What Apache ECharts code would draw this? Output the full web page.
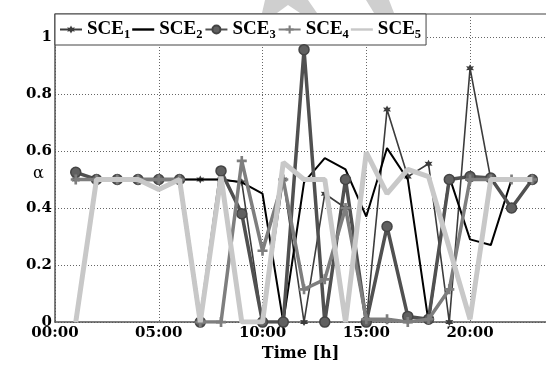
<!DOCTYPE html>
<html><head><meta charset="utf-8">
<script src="https://cdn.jsdelivr.net/npm/echarts@6/dist/echarts.min.js"></script>
<style>html,body{margin:0;padding:0;background:#fff}#c{width:546px;height:367px}</style>
</head><body><div id="c"></div>
<script>
// Data (hours of day 1..23)
const hours = [1,2,3,4,5,6,7,8,9,10,11,12,13,14,15,16,17,18,19,20,21,22,23];
const seriesNames = ['SCE1','SCE2','SCE3','SCE4','SCE5'];
const sce1 = [0.5,0.5,0.5,0.5,0.5,0.5,0.5,0.5,0.49,0,0.5,0,0.45,0.4,0,0.745,0.51,0.555,0,0.89,0.5,0.5,0.5];
const sce2 = [0.5,0.5,0.5,0.5,0.5,0.5,0.5,0.5,0.49,0.45,0,0.49,0.575,0.535,0.37,0.61,0.5,0,0.51,0.29,0.27,0.5,0.5];
const sce3 = [0.525,0.5,0.5,0.5,0.5,0.5,0,0.53,0.38,0,0,0.955,0,0.5,0,0.335,0.02,0.01,0.5,0.51,0.505,0.4,0.5];
const sce4 = [0.5,0.5,0.5,0.5,0.5,0.5,0,0,0.565,0.25,0.5,0.115,0.15,0.4,0.01,0.01,0,0.01,0.115,0.5,0.5,0.5,0.5];
const sce5 = [0,0.5,0.5,0.5,0.465,0.5,0,0.51,0,0,0.56,0.5,0.5,0,0.595,0.45,0.535,0.51,0.26,0.01,0.5,0.5,0.5];
const xTicks = [0,5,10,15,20];
const yTicks = [0,0.2,0.4,0.6,0.8,1];

const pair = arr => hours.map((h,i)=>[h,arr[i]]);
const STAR = 'path://M0,-10 L2.6,-4.5 L8.7,-5 L5.2,0 L8.7,5 L2.6,4.5 L0,10 L-2.6,4.5 L-8.7,5 L-5.2,0 L-8.7,-5 L-2.6,-4.5 Z';
const PLUS = 'path://M-1.6,-6 L1.6,-6 L1.6,-1.6 L6,-1.6 L6,1.6 L1.6,1.6 L1.6,6 L-1.6,6 L-1.6,1.6 L-6,1.6 L-6,-1.6 L-1.6,-1.6 Z';
const LINEICON = 'path://M0,0 L22,0 L22,2.4 L0,2.4 Z';
const serifB = {fontFamily:'DejaVu Serif', fontWeight:'bold', color:'#000'};
const timesB = {fontFamily:'Liberation Serif', fontWeight:'bold', color:'#000'};

const chart = echarts.init(document.getElementById('c'), null, {renderer:'canvas'});
chart.setOption({
  animation:false,
  backgroundColor:'#fff',
  grid:{left:55, top:14, right:0, bottom:33},
  legend:{
    left:55, top:14, orient:'horizontal',
    padding:[4,5,4,4], itemGap:2, itemWidth:22, itemHeight:10,
    backgroundColor:'#fff', borderColor:'#444', borderWidth:1,
    data:seriesNames.map(n => (n==='SCE2'||n==='SCE5') ? {name:n, icon:LINEICON} : {name:n}),
    formatter: n => '{a|SCE}{b|' + n.slice(3) + '}',
    textStyle:{rich:{
      a:{...timesB, fontSize:19, lineHeight:23},
      b:{...timesB, fontSize:12.5, lineHeight:23, padding:[10,0,0,0]}
    }}
  },
  xAxis:{
    type:'value', min:0, max:23.66, interval:5,
    name:'Time [h]', nameLocation:'middle', nameGap:19,
    nameTextStyle:{...serifB, fontSize:16},
    axisLine:{show:true, onZero:false, lineStyle:{color:'#555', width:1.5}},
    axisTick:{show:false},
    axisLabel:{...serifB, fontSize:15, margin:4, showMaxLabel:false,
      formatter: v => xTicks.includes(v) ? ((v<10?'0':'')+v+':00') : ''},
    splitLine:{show:true, lineStyle:{color:'#666', type:[1,2], width:1}}
  },
  yAxis:{
    type:'value', min:0, max:1.08, interval:0.2,
    axisLine:{show:true, onZero:false, lineStyle:{color:'#555', width:1.5}},
    axisTick:{show:false},
    axisLabel:{...serifB, fontSize:15, margin:3, showMaxLabel:false,
      formatter: v => { const t = yTicks.find(k=>Math.abs(k-v)<1e-6); return t===undefined?'':String(t); }},
    splitLine:{show:true, lineStyle:{color:'#666', type:[1,2], width:1}}
  },
  graphic:[
    {type:'polygon', z:0, shape:{points:[[265,0],[308,0],[317,13],[300,13],[288,5],[277,13],[262,13]]}, style:{fill:'#cfcfcf'}},
    {type:'polygon', z:0, shape:{points:[[366,0],[389,0],[394,13],[374,13]]}, style:{fill:'#cfcfcf'}},
    {type:'line', z:1, shape:{x1:55, y1:14, x2:546, y2:14}, style:{stroke:'#a0a0a0', lineWidth:2}},
    {type:'text', left:33, top:166, z:10, style:{text:'α', font:'16px DejaVu Serif', fill:'#000'}}
  ],
  series:[
    {name:'SCE1', type:'line', data:pair(sce1), symbol:STAR, symbolSize:8, showAllSymbol:true,
     lineStyle:{color:'#3c3c3c', width:1.6}, itemStyle:{color:'#3c3c3c'}, z:2},
    {name:'SCE2', type:'line', data:pair(sce2), symbol:'none',
     lineStyle:{color:'#000', width:2}, itemStyle:{color:'#000'}, z:3},
    {name:'SCE3', type:'line', data:pair(sce3), symbol:'circle', symbolSize:10, showAllSymbol:true,
     lineStyle:{color:'#505050', width:3.5}, itemStyle:{color:'#606060', borderColor:'#444', borderWidth:1.5}, z:4},
    {name:'SCE4', type:'line', data:pair(sce4), symbol:PLUS, symbolSize:10, showAllSymbol:true,
     lineStyle:{color:'#7e7e7e', width:3.5}, itemStyle:{color:'#7e7e7e'}, z:5},
    {name:'SCE5', type:'line', data:pair(sce5), symbol:'none',
     lineStyle:{color:'#c8c8c8', width:5}, itemStyle:{color:'#c8c8c8'}, z:6}
  ]
});
</script></body></html>
